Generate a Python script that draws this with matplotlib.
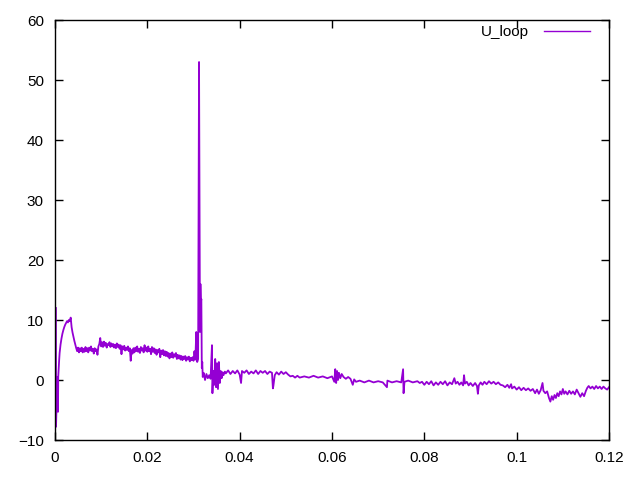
import matplotlib
matplotlib.use('Agg')
import matplotlib.pyplot as plt

plt.rcParams['font.family'] = ['Liberation Sans', 'DejaVu Sans']

# time (s) and loop voltage
t = [0.0002, 0.00022, 0.0005, 0.00065, 0.0007, 0.0008, 0.0009, 0.0010,
     0.0012, 0.0014, 0.0016, 0.0018, 0.0020, 0.0022, 0.0024, 0.0026, 0.0028, 0.0030,
     0.0032, 0.0034, 0.0036, 0.0038, 0.0040, 0.0042, 0.0044, 0.0046, 0.0048, 0.0050,
     0.0052, 0.0054, 0.0056, 0.0058, 0.0060, 0.0062, 0.0064, 0.0066, 0.0068, 0.0070,
     0.0072, 0.0074, 0.0076, 0.0078, 0.0080, 0.0082, 0.0084, 0.0086, 0.0088, 0.0090,
     0.0092, 0.0094, 0.0096, 0.0098, 0.0100, 0.0102, 0.0104, 0.0106, 0.0108, 0.0110,
     0.0112, 0.0114, 0.0116, 0.0118, 0.0120, 0.0122, 0.0124, 0.0126, 0.0128, 0.0130,
     0.0132, 0.0134, 0.0136, 0.0138, 0.0140, 0.0142, 0.0144, 0.0146, 0.0148, 0.0150,
     0.0152, 0.0154, 0.0156, 0.0158, 0.0160, 0.0162, 0.0164, 0.0166, 0.0168, 0.0170,
     0.0172, 0.0174, 0.0176, 0.0178, 0.0180, 0.0182, 0.0184, 0.0186, 0.0188, 0.0190,
     0.0192, 0.0194, 0.0196, 0.0198, 0.0200, 0.0202, 0.0204, 0.0206, 0.0208, 0.0210,
     0.0212, 0.0214, 0.0216, 0.0218, 0.0220, 0.0222, 0.0224, 0.0226, 0.0228, 0.0230,
     0.0232, 0.0234, 0.0236, 0.0238, 0.0240, 0.0242, 0.0244, 0.0246, 0.0248, 0.0250,
     0.0252, 0.0254, 0.0256, 0.0258, 0.0260, 0.0262, 0.0264, 0.0266, 0.0268, 0.0270,
     0.0272, 0.0274, 0.0276, 0.0278, 0.0280, 0.0282, 0.0284, 0.0286, 0.0288, 0.0290,
     0.0292, 0.0294, 0.0296, 0.0298, 0.0300, 0.0302, 0.0304, 0.0306, 0.0308, 0.0310,
     0.0312, 0.0314, 0.0315, 0.0316, 0.0317, 0.0318, 0.0319, 0.0320, 0.0322, 0.0325,
     0.0328, 0.0331, 0.0334, 0.0337, 0.0340, 0.0341, 0.0343, 0.0345, 0.0347, 0.0349,
     0.0351, 0.0353, 0.0355, 0.0357, 0.0359, 0.0361, 0.0363, 0.0365, 0.0368, 0.0370,
     0.0375, 0.0380, 0.0385, 0.0390, 0.0395, 0.0400, 0.0403, 0.0405, 0.0410, 0.0415,
     0.0420, 0.0425, 0.0430, 0.0435, 0.0440, 0.0445, 0.0450, 0.0455, 0.0460, 0.0465,
     0.0470, 0.0472, 0.0473, 0.0476, 0.0480, 0.0485, 0.0490, 0.0495, 0.0500, 0.0505,
     0.0510, 0.0515, 0.0520, 0.0525, 0.0530, 0.0540, 0.0550, 0.0560, 0.0570, 0.0580,
     0.0590, 0.0600, 0.0605, 0.0607, 0.0609, 0.0611, 0.0613, 0.0615, 0.0618, 0.0621,
     0.0625, 0.0630, 0.0635, 0.0640, 0.0645, 0.0648, 0.0652, 0.0660, 0.0670, 0.0680,
     0.0690, 0.0700, 0.0710, 0.0719, 0.0720, 0.0730, 0.0740, 0.0750, 0.0754, 0.0755,
     0.0757, 0.0765, 0.0775, 0.0785, 0.0790, 0.0795, 0.0800, 0.0805, 0.0810, 0.0815,
     0.0820, 0.0825, 0.0830, 0.0835, 0.0840, 0.0845, 0.0850, 0.0855, 0.0860, 0.0865,
     0.0868, 0.0872, 0.0876, 0.0880, 0.0884, 0.0886, 0.0888, 0.0892, 0.0896, 0.0900,
     0.0905, 0.0910, 0.0914, 0.0916, 0.0918, 0.0922, 0.0926, 0.0930, 0.0935, 0.0940,
     0.0945, 0.0950, 0.0955, 0.0960, 0.0965, 0.0970, 0.0975, 0.0980, 0.0984, 0.0988,
     0.0990, 0.0995, 0.1000, 0.1005, 0.1010, 0.1015, 0.1020, 0.1025, 0.1030, 0.1035,
     0.1040, 0.1044, 0.1048, 0.1052, 0.1056, 0.1058, 0.1062, 0.1066, 0.1070, 0.1073,
     0.1076, 0.1079, 0.1082, 0.1085, 0.1088, 0.1091, 0.1094, 0.1097, 0.1100, 0.1103,
     0.1106, 0.1110, 0.1114, 0.1118, 0.1122, 0.1126, 0.1130, 0.1134, 0.1138, 0.1142,
     0.1146, 0.1150, 0.1153, 0.1156, 0.1160, 0.1164, 0.1168, 0.1172, 0.1176, 0.1180,
     0.1184, 0.1188, 0.1192, 0.1196, 0.1200]

u_loop = [12.0, -7.8, 0.5, -5.3, 0.5, 2.0, 3.3, 4.5,
          5.9, 6.9, 7.7, 8.3, 8.8, 9.2, 9.5, 9.8, 9.6, 10.0,
          9.8, 10.4, 8.8, 7.9, 7.2, 6.5, 5.9, 5.3, 4.8, 5.4,
          4.6, 5.3, 4.8, 5.4, 4.6, 5.2, 4.7, 5.5, 4.8, 5.3,
          4.6, 5.4, 4.9, 5.6, 4.8, 5.2, 4.4, 5.3, 4.8, 5.1,
          4.2, 5.6, 6.0, 7.0, 5.6, 6.3, 5.5, 6.4, 5.7, 6.2,
          5.4, 6.0, 5.8, 6.3, 5.5, 6.1, 5.6, 6.0, 5.4, 5.9,
          5.3, 6.1, 5.5, 5.9, 5.2, 5.8, 4.3, 5.6, 5.1, 5.7,
          4.9, 5.4, 5.0, 5.6, 4.8, 5.3, 3.2, 5.0, 4.4, 5.3,
          4.6, 5.4, 4.8, 5.6, 4.7, 5.2, 4.5, 5.5, 4.9, 5.3,
          4.6, 5.8, 4.9, 5.4, 4.7, 5.6, 4.8, 5.2, 4.3, 5.5,
          4.7, 5.3, 4.5, 5.1, 4.2, 5.0, 4.6, 5.2, 3.8, 4.9,
          4.3, 5.0, 4.1, 4.8, 4.0, 4.7, 3.9, 4.5, 3.6, 4.4,
          3.8, 4.6, 3.7, 4.3, 3.9, 4.5, 3.5, 4.2, 3.6, 4.1,
          3.4, 4.0, 3.3, 3.9, 3.5, 4.0, 3.2, 3.8, 3.4, 3.9,
          3.1, 3.7, 3.3, 3.8, 3.2, 4.8, 3.4, 8.0, 3.0, 3.5,
          53.0, 8.0, 16.0, 13.0, 13.5, 2.0, 3.0, 0.5, 1.2, 0.0,
          1.0, 0.3, 0.8, 0.2, 5.8, -2.2, 1.5, -0.8, 3.5, -1.2,
          2.8, -1.5, 3.0, -0.5, 1.5, 0.3, 1.3, 0.8, 1.4, 1.1,
          1.6, 1.0, 1.5, 1.1, 1.6, 0.9, -0.5, 1.5, 1.2, 1.6,
          1.0, 1.4, 1.1, 1.6, 1.0, 1.5, 1.2, 1.5, 1.0, 1.4,
          1.2, -1.4, -1.0, 0.8, 1.3, 0.9, 1.4, 1.0, 1.3, 0.9,
          0.6, 0.7, 0.4, 0.7, 0.4, 0.6, 0.4, 0.7, 0.4, 0.6,
          0.3, 0.6, -0.3, 1.8, -0.5, 1.5, 0.0, 1.2, 0.3, 1.0,
          0.5, 0.2, 0.5, 0.2, -0.8, 0.1, -0.3, -0.1, -0.4, -0.1,
          -0.4, -0.2, -0.4, -1.2, -0.1, -0.4, -0.2, -0.4, 1.8, -2.2,
          -0.3, -0.1, -0.4, -0.2, -0.5, -0.3, -0.8, -0.3, -0.7, -0.2,
          -0.9, -0.4, -0.8, -0.3, -0.7, -0.2, -0.9, -0.4, -0.7, 0.3,
          -0.6, -0.3, -0.8, -0.4, -0.9, 0.8, -0.6, -0.3, -0.9, -0.5,
          -1.0, -0.5, -1.0, -2.3, -0.9, -0.4, -0.8, -0.3, -0.7, -0.2,
          -0.6, -0.3, -0.7, -0.4, -0.8, -0.9, -1.2, -0.8, -1.3, -0.7,
          -1.4, -1.1, -1.6, -1.2, -1.7, -1.3, -1.7, -1.4, -1.8, -1.5,
          -2.2, -1.6, -2.3, -1.7, -0.5, -1.8, -2.2, -1.9, -3.0, -3.6,
          -2.7, -3.3, -2.5, -3.0, -2.2, -2.7, -1.9, -2.4, -1.5, -2.3,
          -1.9, -2.4, -1.8, -2.3, -1.9, -2.4, -1.6, -2.2, -2.8, -2.2,
          -2.7, -1.8, -1.3, -1.0, -1.4, -1.1, -1.5, -1.0, -1.4, -1.1,
          -1.5, -1.1, -1.4, -1.6, -1.2]

xticks = [0, 0.02, 0.04, 0.06, 0.08, 0.1, 0.12]
xlabels = ['0', '0.02', '0.04', '0.06', '0.08', '0.1', '0.12']
yticks = [-10, 0, 10, 20, 30, 40, 50, 60]

fig = plt.figure(figsize=(6.4, 4.8), dpi=100)
ax = fig.add_axes([55 / 640, 40 / 480, 554 / 640, 420 / 480])

ax.plot(t, u_loop, color='#9400d3', lw=1.3, label='U_loop')

ax.set_xlim(0, 0.12)
ax.set_ylim(-10, 60)
ax.set_xticks(xticks)
ax.set_xticklabels(xlabels)
ax.set_yticks(yticks)
ax.tick_params(direction='in', top=True, right=True, length=6, width=1,
               labelsize=11, pad=8)
for s in ax.spines.values():
    s.set_linewidth(1)

# legend like gnuplot: label on the left, sample line on the right
leg = ax.legend(loc='upper right', bbox_to_anchor=(535 / 554, 0.988),
                frameon=False, fontsize=11, markerfirst=False,
                handlelength=3.0, handletextpad=1.0,
                borderpad=0, borderaxespad=0)
for h in leg.get_lines():
    h.set_linewidth(1.0)

fig.savefig('out.png', dpi=100)
